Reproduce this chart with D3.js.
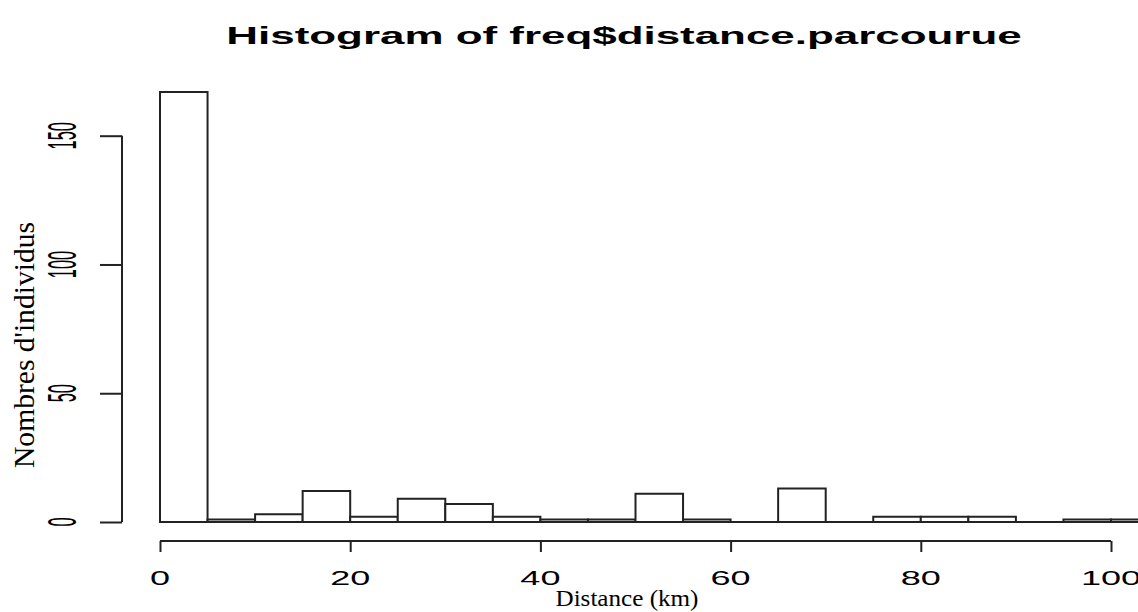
<!DOCTYPE html>
<html>
<head>
<meta charset="utf-8">
<script src="https://cdn.jsdelivr.net/npm/d3@7"></script>
<style>
  html, body { margin: 0; padding: 0; background: #fff; }
  svg { display: block; }
</style>
</head>
<body>
<script>
// ---- data ----
const binStarts = [0,5,10,15,20,25,30,35,40,45,50,55,60,65,70,75,80,85,90,95,100];
const binWidth = 5;
const counts = [167,1,3,12,2,9,7,2,1,1,11,1,0,13,0,2,2,2,0,1,1];
const xTicks = [0,20,40,60,80,100];
const yTicks = [0,50,100,150];
const titleText = "Histogram of freq$distance.parcourue";
const xLabel = "Distance (km)";
const yLabel = "Nombres d'individus";

// ---- layout ----
const W = 1138, H = 612;
const svg = d3.select("body").append("svg").attr("width", W).attr("height", H);

const x = d3.scaleLinear().domain([0, 100]).range([160, 1111]);
const y = d3.scaleLinear().domain([0, 150]).range([522, 135.7]);

// bars
svg.append("g").selectAll("path").data(binStarts).join("path")
  .attr("d", (d, i) => {
    const x0 = x(d), x1 = x(d + binWidth), y0 = y(0), y1 = y(counts[i]);
    return `M${x0},${y0}V${y1}H${x1}V${y0}Z`;
  })
  .attr("fill", "#fff").attr("stroke", "#222").attr("stroke-width", 2);

// x axis
const xAxis = svg.append("g").attr("transform", "translate(0,541)")
  .call(d3.axisBottom(x).tickValues(xTicks).tickSize(11).tickFormat(""));
xAxis.select(".domain").attr("d", `M${x(0)},0H${x(100)}`).attr("stroke", "#222").attr("stroke-width", 2);
xAxis.selectAll(".tick line").attr("stroke", "#222").attr("stroke-width", 2);

svg.append("g").selectAll("text").data(xTicks).join("text")
  .attr("transform", d => `translate(${x(d)},585) scale(1.85,1)`)
  .attr("text-anchor", "middle")
  .attr("font-family", "Liberation Sans, Arial, sans-serif")
  .attr("font-size", 19.5).attr("fill", "#000")
  .text(d => d);

// y axis
const yAxis = svg.append("g").attr("transform", "translate(122,0)")
  .call(d3.axisLeft(y).tickValues(yTicks).tickSize(22).tickFormat(""));
yAxis.select(".domain").attr("d", `M0,${y(0)}V${y(150)}`).attr("stroke", "#222").attr("stroke-width", 2);
yAxis.selectAll(".tick line").attr("stroke", "#222").attr("stroke-width", 2);

svg.append("g").selectAll("text").data(yTicks).join("text")
  .attr("transform", d => `translate(76,${y(d)}) scale(2.5,1) rotate(-90)`)
  .attr("text-anchor", "middle")
  .attr("font-family", "Liberation Sans, Arial, sans-serif")
  .attr("font-size", 16.4).attr("fill", "#000")
  .text(d => d);

// title
svg.append("text")
  .attr("transform", "translate(624,44) scale(1.83,1)")
  .attr("text-anchor", "middle")
  .attr("font-family", "Liberation Sans, Arial, sans-serif")
  .attr("font-weight", "bold")
  .attr("font-size", 24).attr("fill", "#000")
  .text(titleText);

// axis titles
svg.append("text")
  .attr("x", 627).attr("y", 606)
  .attr("text-anchor", "middle")
  .attr("font-family", "Liberation Serif, Times New Roman, serif")
  .attr("font-size", 22.5).attr("fill", "#000")
  .attr("textLength", 143).attr("lengthAdjust", "spacingAndGlyphs")
  .text(xLabel);

svg.append("text")
  .attr("transform", "translate(34,345) rotate(-90)")
  .attr("text-anchor", "middle")
  .attr("font-family", "Liberation Serif, Times New Roman, serif")
  .attr("font-size", 30).attr("fill", "#000")
  .attr("textLength", 246).attr("lengthAdjust", "spacingAndGlyphs")
  .text(yLabel);
</script>
</body>
</html>
